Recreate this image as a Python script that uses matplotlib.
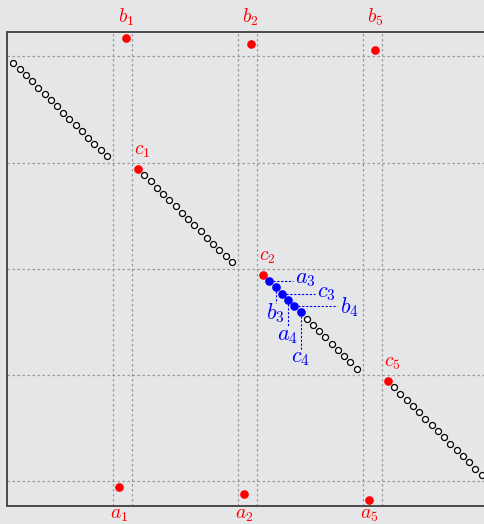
import matplotlib
matplotlib.use('Agg')
import matplotlib.pyplot as plt

plt.rcParams['mathtext.fontset'] = 'cm'

# open circles (position, rank)
open_x = [0, 1, 2, 3, 4, 5, 6, 7, 8, 9, 10, 11, 12, 13, 14, 15,
          21, 22, 23, 24, 25, 26, 27, 28, 29, 30, 31, 32, 33, 34, 35,
          47, 48, 49, 50, 51, 52, 53, 54, 55,
          61, 62, 63, 64, 65, 66, 67, 68, 69, 70, 71, 72, 73, 74, 75]
open_y = [0, 1, 2, 3, 4, 5, 6, 7, 8, 9, 10, 11, 12, 13, 14, 15,
          18, 19, 20, 21, 22, 23, 24, 25, 26, 27, 28, 29, 30, 31, 32,
          41, 42, 43, 44, 45, 46, 47, 48, 49,
          52, 53, 54, 55, 56, 57, 58, 59, 60, 61, 62, 63, 64, 65, 66]

# red points
a_names = ['a_1', 'a_2', 'a_5']
a_x = [17, 37, 57]
a_y = [68, 69, 70]
b_names = ['b_1', 'b_2', 'b_5']
b_x = [18, 38, 58]
b_y = [-4, -3, -2]
c_names = ['c_1', 'c_2', 'c_5']
c_x = [20, 40, 60]
c_y = [17, 34, 51]

# blue points
blue_names = ['a_3', 'b_3', 'c_3', 'a_4', 'b_4', 'c_4']
blue_x = [41, 42, 43, 44, 45, 46]
blue_y = [35, 36, 37, 38, 39, 40]
blue_dir = ['h', 'v', 'h', 'v', 'h', 'v']
blue_end = [44.8, 38.5, 48.3, 42.3, 51.8, 46.0]
blue_lab_x = [46.7, 41.9, 50.2, 43.9, 53.8, 46.0]
blue_lab_y = [34.6, 40.1, 36.9, 43.7, 39.1, 47.3]

# dashed guide lines
hlines = [-1, 16, 33, 50, 67]
vlines = [16, 19, 36, 39, 56, 59]

bg = '#e5e6e8'
fig = plt.figure(figsize=(4.85, 5.24), dpi=100, facecolor=bg)
ax = fig.add_axes([7.3 / 485, 18.3 / 524, 477.7 / 485, 474 / 524])
ax.set_facecolor(bg)
ax.set_xlim(-0.96, 75.55)
ax.set_ylim(70.95, -4.96)
ax.set_xticks([])
ax.set_yticks([])
for s in ['left', 'top', 'bottom']:
    ax.spines[s].set_color('#4a4a4a')
    ax.spines[s].set_linewidth(1.4)
ax.spines['right'].set_visible(False)

for h in hlines:
    ax.axhline(h, color='#9a9a9a', lw=0.9, ls=(0, (2, 2)), zorder=1)
for v in vlines:
    ax.axvline(v, color='#9a9a9a', lw=0.9, ls=(0, (2, 2)), zorder=1)

ax.plot(open_x, open_y, 'o', ms=4.3, mfc='white', mec='black', mew=0.9, zorder=3)

ax.plot(a_x + b_x + c_x, a_y + b_y + c_y, 'o', ms=5.2, color='red', zorder=4)

for n, x in zip(a_names, a_x):
    ax.text(x, 72.4, '$' + n + '$', color='red', fontsize=14,
            ha='center', va='center', clip_on=False)
for n, x in zip(b_names, b_x):
    ax.text(x, -7.27, '$' + n + '$', color='red', fontsize=14,
            ha='center', va='center', clip_on=False)
for n, x, y in zip(c_names, c_x, c_y):
    ax.text(x + 0.7, y - 3.0, '$' + n + '$', color='red', fontsize=14,
            ha='center', va='center')

for i in range(len(blue_names)):
    x, y = blue_x[i], blue_y[i]
    if blue_dir[i] == 'h':
        ax.plot([x, blue_end[i]], [y, y], color='blue', lw=0.8, ls=(0, (2, 1.5)), zorder=2)
    else:
        ax.plot([x, x], [y, blue_end[i]], color='blue', lw=0.8, ls=(0, (2, 1.5)), zorder=2)
    ax.text(blue_lab_x[i], blue_lab_y[i], '$' + blue_names[i] + '$', color='blue',
            fontsize=16, ha='center', va='center')

ax.plot(blue_x, blue_y, 'o', ms=5.2, color='blue', zorder=4)

plt.savefig('out.png', dpi=100, facecolor=bg)
